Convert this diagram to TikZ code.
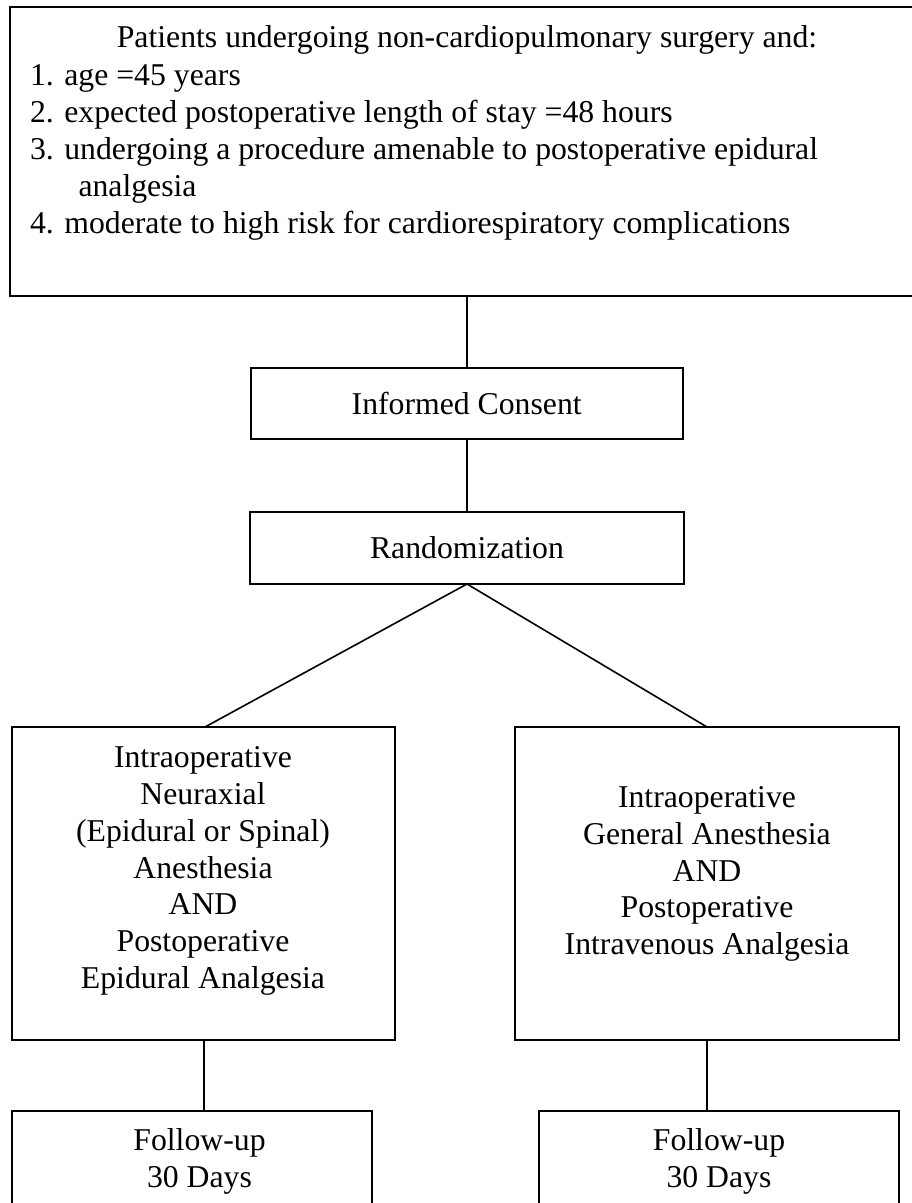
\documentclass[tikz,border=0pt]{standalone}
\usepackage{fontspec}
\setmainfont{Liberation Serif}
\begin{document}
\begin{tikzpicture}[x=0.75pt,y=-0.75pt,
  box/.style={draw, line width=1.5pt, inner sep=0pt, outer sep=0pt},
  conn/.style={line width=1.5pt},
  diag/.style={line width=1.2pt},
  txt/.style={inner sep=0pt, outer sep=0pt, font=\fontsize{23.8pt}{27.6pt}\selectfont},
  ctxt/.style={txt, align=center}]
\useasboundingbox (0,0) rectangle (912,1203);
\clip (0,0) rectangle (912,1203);
\fill[white] (0,0) rectangle (912,1203);
% boxes
\node[box, minimum width=909.5*0.75pt, minimum height=288.4*0.75pt] (top) at (465,151.5) {};
\node[box, txt, minimum width=432*0.75pt, minimum height=71*0.75pt] (ic) at (466.7,403.5) {Informed Consent};
\node[box, txt, minimum width=434*0.75pt, minimum height=72*0.75pt] (rand) at (467,548) {Randomization};
\node[box, minimum width=383.4*0.75pt, minimum height=313*0.75pt] (left) at (203.3,883.5) {};
\node[box, minimum width=384*0.75pt, minimum height=313*0.75pt] (right) at (707,883.5) {};
\node[box, minimum width=360.5*0.75pt, minimum height=129*0.75pt] (bl) at (191.75,1175.5) {};
\node[box, minimum width=360*0.75pt, minimum height=129*0.75pt] (br) at (719,1175.5) {};
% top text
\node[txt, anchor=base] (t0) at (467,47.5) {Patients undergoing non-cardiopulmonary surgery and:};
\node[txt, anchor=base west] (t1) at (30,85.5) {1. age =45 years};
\node[txt, anchor=base west] (t2) at (30,122.5) {2. expected postoperative length of stay =48 hours};
\node[txt, anchor=base west] (t3) at (30,159) {3. undergoing a procedure amenable to postoperative epidural};
\node[txt, anchor=base west] (t3b) at (78.5,196) {analgesia};
\node[txt, anchor=base west] (t4) at (30,233) {4. moderate to high risk for cardiorespiratory complications};
% arm texts
\node[ctxt] (lt) at (203,871) {Intraoperative\\Neuraxial\\(Epidural or Spinal)\\Anesthesia\\AND\\Postoperative\\Epidural Analgesia};
\node[ctxt] (rt) at (707,874) {Intraoperative\\General Anesthesia\\AND\\Postoperative\\Intravenous Analgesia};
\node[ctxt] (blt) at (199.5,1161) {Follow-up\\30 Days};
\node[ctxt] (brt) at (719,1161) {Follow-up\\30 Days};
% connectors
\draw[conn] (ic.north |- top.south) -- (ic.north);
\draw[conn] (ic.south) -- (ic.south |- rand.north);
\draw[diag] (rand.south) -- (205,727);
\draw[diag] (rand.south) -- (right.north);
\draw[conn] (204,1040) -- (204,1111);
\draw[conn] (right.south) -- (right.south |- br.north);
\end{tikzpicture}
\end{document}
